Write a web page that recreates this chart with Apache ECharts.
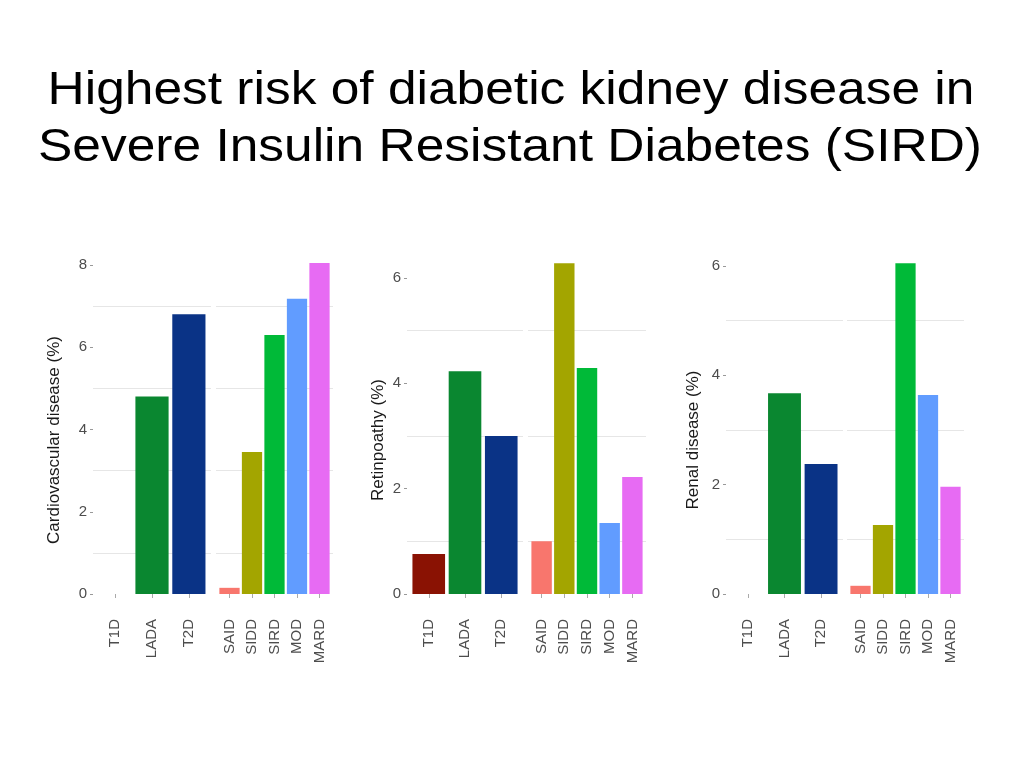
<!DOCTYPE html>
<html>
<head>
<meta charset="utf-8">
<script src="https://cdn.jsdelivr.net/npm/echarts@6/dist/echarts.min.js"></script>
<style>html,body{margin:0;padding:0;background:#fff;}#c{width:1023px;height:770px;}</style>
</head>
<body>
<div id="c"></div>
<script>
// ---- data ----
const titleLines = ['Highest risk of diabetic kidney disease in', 'Severe Insulin Resistant Diabetes (SIRD)'];
const categoriesLeft = ['T1D', 'LADA', 'T2D'];
const categoriesRight = ['SAID', 'SIDD', 'SIRD', 'MOD', 'MARD'];
const colorsLeft = ['#8a1203', '#0a8730', '#0a3386'];
const colorsRight = ['#f8766d', '#a3a500', '#00ba38', '#619cff', '#e76bf3'];
const yTitles = ['Cardiovascular disease (%)', 'Retinpoathy (%)', 'Renal disease (%)'];
const yMax = [8, 6, 6];
const yInterval = 2;
const cvdLeft = [0, 4.8, 6.8];
const cvdRight = [0.15, 3.45, 6.3, 7.18, 8.05];
const retLeft = [0.76, 4.23, 3.0];
const retRight = [1.0, 6.28, 4.29, 1.35, 2.22];
const renLeft = [0, 3.67, 2.38];
const renRight = [0.15, 1.26, 6.05, 3.64, 1.96];
const panelValues = [[cvdLeft, cvdRight], [retLeft, retRight], [renLeft, renRight]];

// ---- layout ----
const panels = [
  { top: 265, zero: 594, sub: [[93, 211], [216, 333]], titleX: 54 },
  { top: 278, zero: 594, sub: [[407, 523], [528, 646]], titleX: 378 },
  { top: 266, zero: 594, sub: [[726, 843], [847, 964]], titleX: 693 }
];
const FONT = 'Liberation Sans, Arial, Helvetica, sans-serif';
const grids = [], xAxes = [], yAxes = [], series = [], graphics = [];

panels.forEach((p, pi) => {
  const h = p.zero - p.top;
  [0, 1].forEach(si => {
    const cats = si === 0 ? categoriesLeft : categoriesRight;
    const cols = si === 0 ? colorsLeft : colorsRight;
    const vals = panelValues[pi][si];
    const [gx0, gx1] = p.sub[si];
    const n = cats.length;
    const u = (gx1 - gx0) / (n + 0.2);
    // background grid (gridlines + y axis)
    const bgIdx = grids.length;
    grids.push({ left: gx0, width: gx1 - gx0, top: p.top, height: h, containLabel: false });
    xAxes.push({ gridIndex: bgIdx, type: 'value', min: 0, max: 1, show: false });
    yAxes.push({
      gridIndex: bgIdx, type: 'value', min: 0, max: yMax[pi], interval: yInterval,
      axisLine: { show: false },
      axisTick: { show: si === 0, length: 3, lineStyle: { color: '#999', width: 1 } },
      axisLabel: { show: si === 0, margin: 6, color: '#4d4d4d', fontSize: 15, fontFamily: FONT },
      splitLine: { show: false },
      minorTick: { show: false, splitNumber: 2 },
      minorSplitLine: { show: true, lineStyle: { color: '#e6e6e6', width: 1 } }
    });
    // bar grid
    const bIdx = grids.length;
    grids.push({ left: gx0 + 0.1 * u, width: n * u, top: p.top, height: h, containLabel: false });
    xAxes.push({
      gridIndex: bIdx, type: 'category', data: cats, offset: 17,
      axisLine: { show: false },
      axisTick: { show: true, alignWithLabel: true, length: 4, lineStyle: { color: '#aaa' } },
      axisLabel: { rotate: 90, margin: 8, color: '#4d4d4d', fontSize: 15, fontFamily: FONT, interval: 0 }
    });
    yAxes.push({ gridIndex: bIdx, type: 'value', min: 0, max: yMax[pi], interval: yInterval, show: false, splitLine: { show: false } });
    series.push({
      type: 'bar', xAxisIndex: bIdx, yAxisIndex: bIdx, clip: false,
      barCategoryGap: '10%', silent: true,
      data: vals.map((v, i) => ({ value: v, itemStyle: { color: cols[i] } }))
    });
  });
  graphics.push({
    type: 'text', x: p.titleX, y: 440, rotation: Math.PI / 2,
    style: { text: yTitles[pi], fontSize: 17, fontFamily: FONT, fill: '#1a1a1a', textAlign: 'center', textVerticalAlign: 'middle' }
  });
});

graphics.push({
  type: 'text', x: 511, y: 91, scaleX: 1.095,
  style: { text: titleLines[0], fontSize: 47, fontFamily: FONT, fill: '#000', textAlign: 'center', textVerticalAlign: 'middle' }
});
graphics.push({
  type: 'text', x: 510, y: 148, scaleX: 1.095,
  style: { text: titleLines[1], fontSize: 47, fontFamily: FONT, fill: '#000', textAlign: 'center', textVerticalAlign: 'middle' }
});

const chart = echarts.init(document.getElementById('c'), null, { renderer: 'canvas' });
chart.setOption({
  backgroundColor: '#fff',
  animation: false,
  grid: grids, xAxis: xAxes, yAxis: yAxes, series: series, graphic: graphics
});
</script>
</body>
</html>
